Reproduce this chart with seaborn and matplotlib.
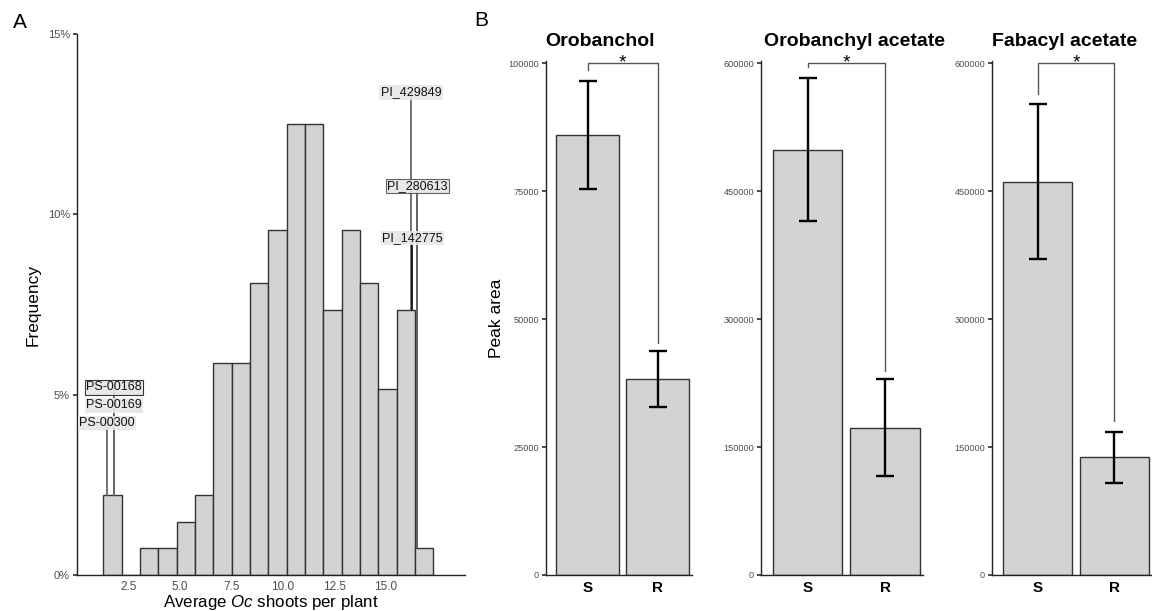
import numpy as np
import pandas as pd
import matplotlib
matplotlib.use("Agg")
import matplotlib.pyplot as plt
import seaborn as sns

# ---------------- data ----------------
# Panel A: histogram of average Oc shoots per plant (136 accessions, 18 bins)
bin_start = 1.29
bin_width = 0.89
shoot_bin_counts = [3, 0, 1, 1, 2, 3, 8, 8, 11, 13, 17, 17, 10, 13, 11, 7, 10, 1]
n_accessions = 136

# highlighted accessions: name, average shoots, label height (%)
accession_names = ["PS-00168", "PS-00169", "PS-00300", "PI_429849", "PI_280613", "PI_142775"]
accession_shoots = [1.81, 1.81, 1.45, 16.22, 16.53, 16.29]
accession_label_pct = [5.20, 4.70, 4.21, 13.38, 10.78, 9.35]

x_ticks_a = [2.5, 5.0, 7.5, 10.0, 12.5, 15.0]
y_ticks_a = [0, 5, 10, 15]

# Panel B: strigolactone peak areas, susceptible (S) vs resistant (R)
genotypes = ["S", "R"]
compounds = ["Orobanchol", "Orobanchyl acetate", "Fabacyl acetate"]
peak_mean = {
    "Orobanchol": [85980, 38190],
    "Orobanchyl acetate": [498000, 172400],
    "Fabacyl acetate": [461000, 138100],
}
peak_upper = {
    "Orobanchol": [96570, 43670],
    "Orobanchyl acetate": [582200, 230000],
    "Fabacyl acetate": [551500, 167800],
}
peak_lower = {
    "Orobanchol": [75300, 32770],
    "Orobanchyl acetate": [414300, 116600],
    "Fabacyl acetate": [370900, 108400],
}
# significance bracket: top, left drop, right drop
bracket = {
    "Orobanchol": [100000, 98600, 45270],
    "Orobanchyl acetate": [600000, 595400, 239600],
    "Fabacyl acetate": [600000, 564300, 180200],
}
y_ticks_b = {
    "Orobanchol": [0, 25000, 50000, 75000, 100000],
    "Orobanchyl acetate": [0, 150000, 300000, 450000, 600000],
    "Fabacyl acetate": [0, 150000, 300000, 450000, 600000],
}

# ---------------- style ----------------
sns.set_theme(style="white")
plt.rcParams["font.family"] = ["Liberation Sans", "DejaVu Sans"]
plt.rcParams["mathtext.fontset"] = "custom"
plt.rcParams["mathtext.it"] = "Liberation Sans:italic"
plt.rcParams["mathtext.rm"] = "Liberation Sans"
plt.rcParams["text.color"] = "black"
plt.rcParams["axes.labelcolor"] = "black"

W, H = 1152, 611
fig = plt.figure(figsize=(W / 100, H / 100), dpi=100)
fig.patch.set_facecolor("white")


def px_axes(left, right, top, bottom):
    return fig.add_axes([left / W, 1 - bottom / H, (right - left) / W, (bottom - top) / H])


TICK_GREY = "#4d4d4d"
FILL = "#d3d3d3"
EDGE = "#333333"

# ---------------- panel A ----------------
axA = px_axes(76.8, 465, 34, 575)
edges = bin_start + bin_width * np.arange(len(shoot_bin_counts) + 1)
centers = (edges[:-1] + edges[1:]) / 2
pct = np.array(shoot_bin_counts) / n_accessions * 100
hist_df = pd.DataFrame({"shoots": centers, "pct": pct})
sns.histplot(data=hist_df, x="shoots", weights="pct", bins=edges.tolist(), ax=axA,
             color=FILL, edgecolor=EDGE, linewidth=1.0, alpha=1, stat="count")
axA.set_xlim(0, 18.84)
axA.set_ylim(0, 15)
axA.set_xticks(x_ticks_a)
axA.set_xticklabels([f"{v:.1f}" for v in x_ticks_a])
axA.set_yticks(y_ticks_a)
axA.set_yticklabels([f"{v}%" for v in y_ticks_a])
axA.tick_params(axis="x", length=0, pad=4, labelsize=8.5, labelcolor=TICK_GREY)
axA.tick_params(axis="y", length=3, pad=2, labelsize=8, labelcolor=TICK_GREY, color="#333333", left=True)
axA.set_xlabel(r"Average $\it{Oc}$ shoots per plant", fontsize=12.2, labelpad=0)
axA.set_ylabel("Frequency", fontsize=12.5, labelpad=5)
for s in ["top", "right"]:
    axA.spines[s].set_visible(False)
for s in ["left", "bottom"]:
    axA.spines[s].set_color("#222222")
    axA.spines[s].set_linewidth(1.0)

# labelled accessions with leader lines from their bar
line_colors = ["#666666", "#666666", "#666666", "#666666", "#555555", "#111111"]
box_edges = ["#222222", "none", "none", "none", "#555555", "none"]
for name, xs, ylab, lc, be in zip(accession_names, accession_shoots, accession_label_pct,
                                  line_colors, box_edges):
    b = np.searchsorted(edges, xs) - 1
    axA.plot([xs, xs], [pct[b], ylab], color=lc, lw=1.3, zorder=3)
for name, xs, ylab, be in zip(accession_names, accession_shoots, accession_label_pct, box_edges):
    axA.text(xs, ylab, name, ha="center", va="center", fontsize=9, color="#111111", zorder=5,
             bbox=dict(boxstyle="square,pad=0.1", facecolor="#e6e6e6", edgecolor=be,
                       linewidth=0.8, alpha=0.9))

# ---------------- panel B ----------------
panel_px = {
    "Orobanchol": (546, 692),
    "Orobanchyl acetate": (761, 923),
    "Fabacyl acetate": (992, 1152),
}
title_x = {"Orobanchol": 600.5, "Orobanchyl acetate": 855, "Fabacyl acetate": 1065}

for i, comp in enumerate(compounds):
    left, right = panel_px[comp]
    ax = px_axes(left, right, 61, 575)
    df = pd.DataFrame({"genotype": genotypes, "peak": peak_mean[comp]})
    sns.barplot(data=df, x="genotype", y="peak", order=genotypes, ax=ax, color=FILL,
                saturation=1, edgecolor=EDGE, linewidth=1.0, width=0.9, errorbar=None)
    means = np.array(peak_mean[comp])
    up = np.array(peak_upper[comp])
    lo = np.array(peak_lower[comp])
    ax.errorbar([0, 1], means, yerr=[means - lo, up - means], fmt="none", ecolor="black",
                elinewidth=1.7, capsize=6.5, capthick=1.7, zorder=4)
    top, dl, dr = bracket[comp]
    ax.plot([0, 0, 1, 1], [dl, top, top, dr], color="#555555", lw=1.0, zorder=4, clip_on=False)
    ax.annotate("*", xy=(0.5, top), xytext=(0, -3.5), textcoords="offset points",
                ha="center", va="baseline", fontsize=14, annotation_clip=False)
    ticks = y_ticks_b[comp]
    ax.set_ylim(0, ticks[-1] * 1.004)
    ax.set_xlim(-0.6, 1.49)
    ax.set_yticks(ticks)
    ax.set_yticklabels([str(t) for t in ticks])
    ax.tick_params(axis="y", length=3, pad=2, labelsize=6.6, labelcolor=TICK_GREY,
                   color="#333333", left=True)
    ax.tick_params(axis="x", length=0, pad=4, labelsize=11, labelcolor="black")
    for lab in ax.get_xticklabels():
        lab.set_fontweight("bold")
    ax.set_xlabel("")
    ax.set_ylabel("Peak area" if i == 0 else "", fontsize=12.5, labelpad=3)
    for s in ["top", "right"]:
        ax.spines[s].set_visible(False)
    for s in ["left", "bottom"]:
        ax.spines[s].set_color("#222222")
        ax.spines[s].set_linewidth(1.0)
    fig.text(title_x[comp] / W, 1 - 42 / H, comp, ha="center", va="center",
             fontsize=14, fontweight="bold", color="black")

# panel letters
fig.text(13 / W, 1 - 13 / H, "A", ha="left", va="top", fontsize=15, color="black")
fig.text(474 / W, 1 - 11 / H, "B", ha="left", va="top", fontsize=15, color="black")

fig.savefig("out.png", dpi=100, facecolor="white")
